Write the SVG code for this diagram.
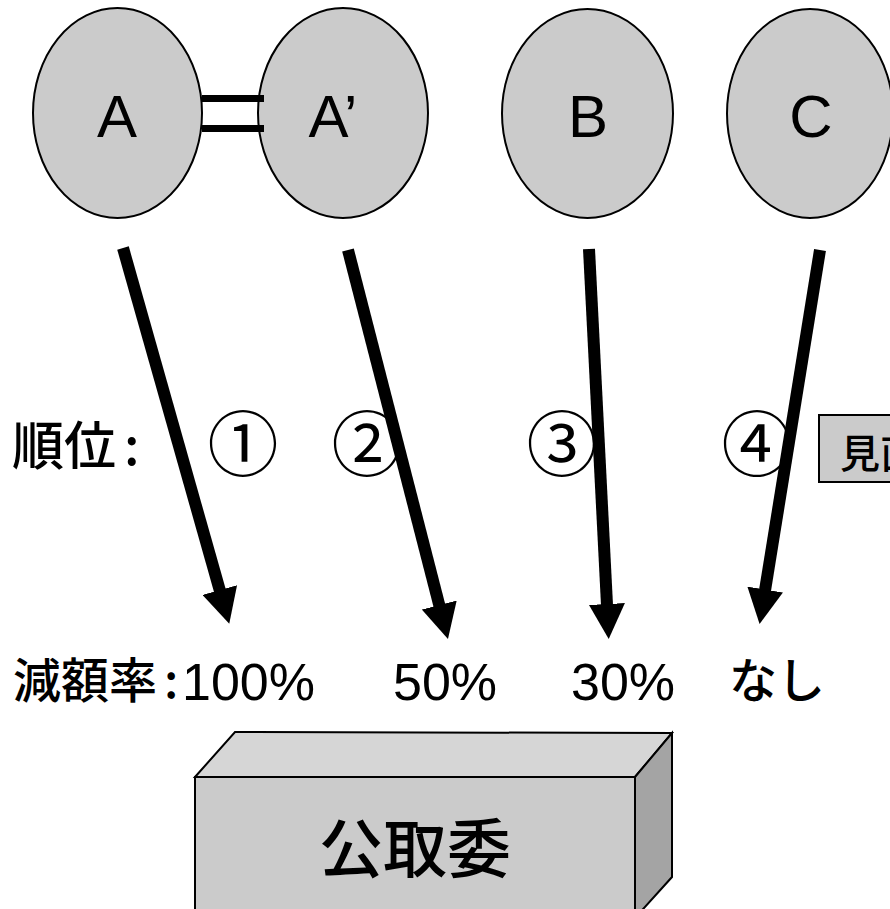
<svg xmlns="http://www.w3.org/2000/svg" width="890" height="909" viewBox="0 0 890 909">
<style>
.node{fill:#cbcbcb;stroke:#000;stroke-width:2}
.lbl{font-family:"Liberation Sans",Arial,sans-serif;font-size:60px;fill:#000;text-anchor:middle}
.jp{font-family:"Noto Sans CJK JP","Noto Sans CJK SC",sans-serif;fill:#000;font-weight:500}
.num{font-family:"Liberation Sans",Arial,sans-serif;font-size:52px;fill:#000;font-weight:normal}
.arrow{stroke:#000;stroke-width:12;stroke-linecap:butt;fill:none;marker-end:url(#ah)}
.circ{font-family:"Noto Sans CJK JP","Noto Sans CJK SC",sans-serif;font-size:71px;fill:#000;text-anchor:middle}
</style>
<defs>
<marker id="ah" markerUnits="userSpaceOnUse" markerWidth="36" markerHeight="36" refX="1" refY="18" orient="auto" viewBox="0 0 36 36">
<path d="M0,0 L35,18 L0,36 Z" fill="#000"/>
</marker>
</defs>
<rect width="890" height="909" fill="#fff"/>
<g id="node-A">
<ellipse class="node" cx="117.5" cy="113" rx="84.5" ry="105"/>
<text class="lbl" x="117" y="137">A</text>
</g>
<g id="node-A2">
<ellipse class="node" cx="343" cy="113" rx="85" ry="105"/>
<text class="lbl" x="333" y="137">A’</text>
</g>
<g id="node-B">
<ellipse class="node" cx="587.5" cy="113.5" rx="85.5" ry="104.5"/>
<text class="lbl" x="588" y="137">B</text>
</g>
<g id="node-C">
<ellipse class="node" cx="810" cy="113.5" rx="83" ry="104.5"/>
<text class="lbl" x="811" y="137">C</text>
</g>
<g id="equals">
<rect x="202" y="95" width="62" height="7" fill="#000"/>
<rect x="202" y="125" width="62" height="7" fill="#000"/>
</g>
<g id="connectors">
<line class="arrow" x1="123" y1="248" x2="220" y2="591"/>
<line class="arrow" x1="348" y1="250" x2="439.5" y2="606"/>
<line class="arrow" x1="589" y1="249" x2="607" y2="605"/>
<line class="arrow" x1="820" y1="250" x2="765" y2="590.5"/>
</g>
<g id="rank">
<text class="jp" font-size="52" y="465"><tspan x="12">順位</tspan><tspan x="124">:</tspan></text>
<text class="circ" x="243" y="470">①</text>
<text class="circ" x="367" y="470">②</text>
<text class="circ" x="562" y="470">③</text>
<text class="circ" x="757" y="470">④</text>
</g>
<g id="node-review">
<rect class="node" x="819" y="415" width="80" height="67"/>
<text class="jp" font-size="40" x="840" y="468">見直</text>
</g>
<g id="rates">
<text class="jp" font-size="48" y="698"><tspan x="13">減額率</tspan><tspan x="164">:</tspan><tspan class="num" x="182" y="700">100%</tspan></text>
<text class="num" x="393" y="700">50%</text>
<text class="num" x="571" y="700">30%</text>
<text class="jp" font-size="48" x="729" y="698" font-weight="400">なし</text>
</g>
<g id="node-jftc">
<polygon points="195,777 235,732 672,733 635,777" fill="#d6d6d6" stroke="#000" stroke-width="2"/>
<polygon points="635,777 672,733 672,877 635,918" fill="#a4a4a4" stroke="#000" stroke-width="2"/>
<rect x="195" y="777" width="440" height="150" fill="#cbcbcb" stroke="#000" stroke-width="2"/>
<text class="jp" font-size="64" x="415" y="872" text-anchor="middle">公取委</text>
</g>
</svg>
